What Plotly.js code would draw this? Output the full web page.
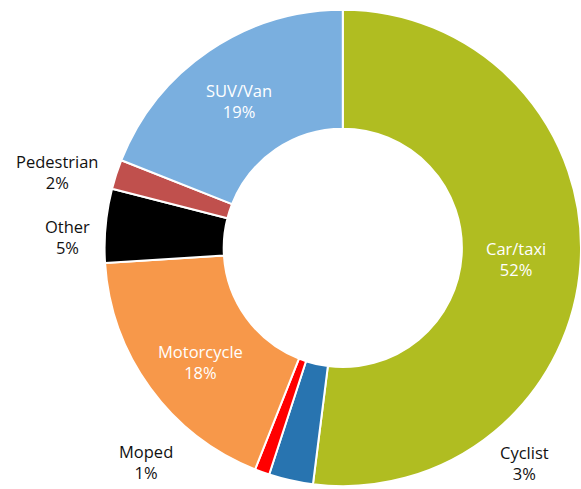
<!DOCTYPE html>
<html>
<head>
<meta charset="utf-8">
<script src="https://cdn.plot.ly/plotly-3.0.1.min.js"></script>
<style>html,body{margin:0;padding:0;background:#fff;}#chart{width:581px;height:489px;}</style>
</head>
<body>
<div id="chart"></div>
<script>
const categories = ['Car/taxi', 'Cyclist', 'Moped', 'Motorcycle', 'Other', 'Pedestrian', 'SUV/Van'];
const shares = [52, 3, 1, 18, 5, 2, 19];
const colors = ['#b0bd21', '#2874b0', '#ff0000', '#f7984a', '#000000', '#c0504d', '#7aafdf'];
const insideLabel = [true, false, false, true, false, false, true];
const labelPos = {
  'Car/taxi': [516, 259],
  'Cyclist': [524, 463],
  'Moped': [146, 462],
  'Motorcycle': [200, 362],
  'Other': [67, 237],
  'Pedestrian': [57, 172],
  'SUV/Van': [239, 101]
};

const FONT = '"Open Sans", Lato, sans-serif';

const trace = {
  type: 'pie',
  labels: categories,
  values: shares,
  sort: false,
  direction: 'clockwise',
  rotation: 0,
  hole: 0.5,
  marker: {colors: colors, line: {color: '#ffffff', width: 2}},
  textinfo: 'none',
  hoverinfo: 'none',
  showlegend: false,
  domain: {x: [0.18, 1.0], y: [0.0, 0.986]}
};

const W = 581, H = 489;
const annotations = categories.map((c, i) => {
  const p = labelPos[c];
  return {
    x: p[0] / W, y: 1 - p[1] / H, xref: 'paper', yref: 'paper',
    text: c + '<br>' + shares[i] + '%',
    showarrow: false, xanchor: 'center', yanchor: 'middle',
    font: {family: FONT, size: 16.5, weight: 500, color: insideLabel[i] ? '#ffffff' : '#111111'}
  };
});

const layout = {
  width: W, height: H,
  margin: {l: 0, r: 0, t: 0, b: 0},
  paper_bgcolor: '#ffffff',
  annotations: annotations
};

Plotly.newPlot('chart', [trace], layout, {displayModeBar: false, staticPlot: true});
</script>
</body>
</html>
